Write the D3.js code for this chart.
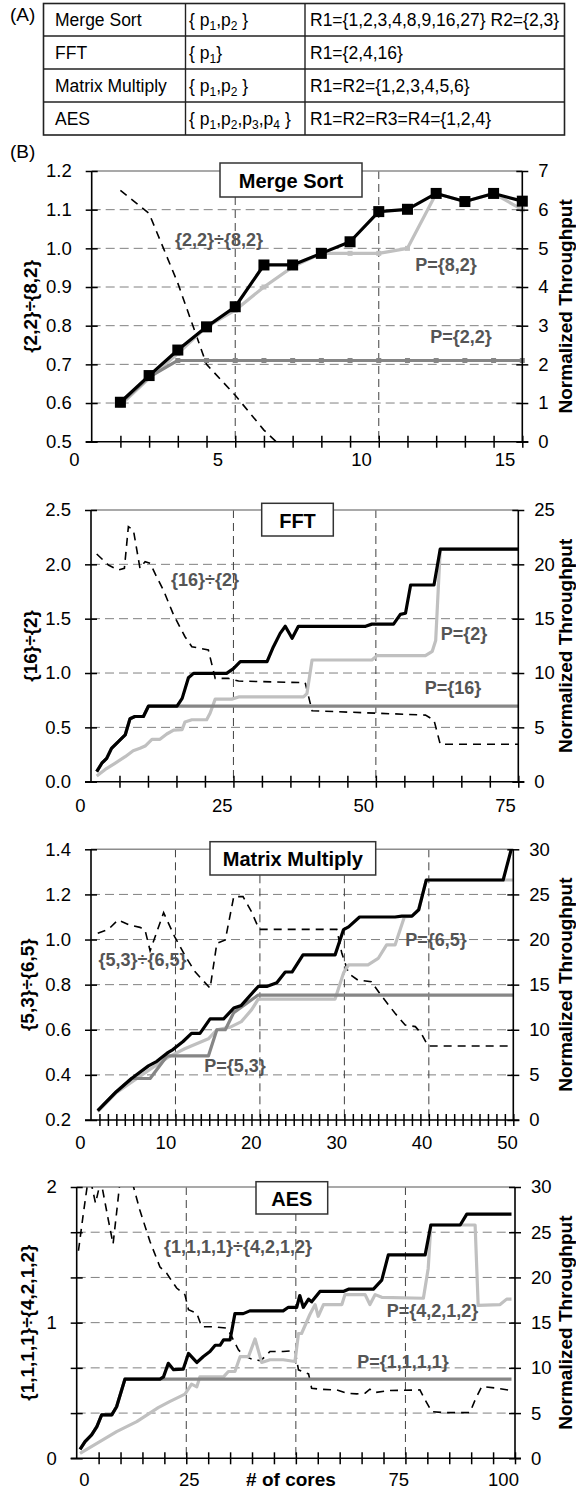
<!DOCTYPE html>
<html>
<head>
<meta charset="utf-8">
<title>Throughput of parallel patterns</title>
<script src="https://cdn.jsdelivr.net/npm/d3@7"></script>
<style>
  body { margin: 0; background: #fff; }
  svg { display: block; font-family: "Liberation Sans", Arial, Helvetica, sans-serif; }
  .hgrid { stroke: #808080; stroke-width: 1; stroke-dasharray: 9 5; }
  .vgrid { stroke: #404040; stroke-width: 1; stroke-dasharray: 8 5; }
  .frame { stroke: #000; stroke-width: 1.6; }
  .topline { stroke: #8c8c8c; stroke-width: 1.6; }
  .ratio { fill: none; stroke: #000; stroke-width: 1.6; stroke-dasharray: 8 6; }
  .best { fill: none; stroke: #000; stroke-width: 3.2; stroke-linejoin: round; }
  .light { fill: none; stroke: #c0c0c0; stroke-width: 3.2; stroke-linejoin: round; }
  .dark { fill: none; stroke: #868686; stroke-width: 3.2; stroke-linejoin: round; }
  .lbl { font-weight: bold; font-size: 18px; fill: #555; text-anchor: middle; dominant-baseline: central; }
  .ttl { font-weight: bold; font-size: 20px; fill: #000; text-anchor: middle; dominant-baseline: central; }
  .axttl { font-weight: bold; font-size: 19px; fill: #000; text-anchor: middle; dominant-baseline: central; }
  .cell { font-size: 17.5px; fill: #000; }
</style>
</head>
<body>
<svg id="chart" width="576" height="1491"></svg>
<script>
// ---- table (A)
const tableApps = ["Merge Sort", "FFT", "Matrix Multiply", "AES"];
const tableParams = [["1", "2"], ["1"], ["1", "2"], ["1", "2", "3", "4"]];
const tableRanges = ["R1={1,2,3,4,8,9,16,27} R2={2,3}", "R1={2,4,16}", "R1=R2={1,2,3,4,5,6}", "R1=R2=R3=R4={1,2,4}"];

// ---- Merge Sort
const msCores = [1, 2, 3, 4, 5, 6, 7, 8, 9, 10, 11, 12, 13, 14, 15];
const msBest = [1.02, 1.71, 2.37, 2.97, 3.49, 4.57, 4.57, 4.87, 5.17, 5.95, 6.01, 6.42, 6.21, 6.42, 6.22];
const msP82 = [0.95, 1.64, 2.28, 2.97, 3.40, 4.00, 4.52, 4.87, 4.87, 4.87, 5.00, 6.42, 6.21, 6.42, 6.00];
const msP22 = [0.99, 1.67, 2.10, 2.10, 2.10, 2.10, 2.10, 2.10, 2.10, 2.10, 2.10, 2.10, 2.10, 2.10, 2.10];
const msRatioCores = [1, 2, 3, 4, 5, 6, 7];
const msRatio = [1.15, 1.09, 0.91, 0.70, 0.62, 0.53, 0.46];
const msXTicks = [0, 5, 10, 15];
const msLeftLabels = [0.5, 0.6, 0.7, 0.8, 0.9, 1.0, 1.1, 1.2];
const msRightTicks = [0, 1, 2, 3, 4, 5, 6, 7];

// ---- FFT  ([cores, value])
const fftBest = [[1, 0.92], [1.9, 1.7], [2.75, 2.15], [3.6, 3.07], [4.8, 3.68], [6, 4.3], [6.85, 5.8], [7.7, 6], [9.2, 6],
  [10.1, 6.96], [15.1, 6.96], [16, 7.67], [17.1, 9.57], [18, 9.97], [23.8, 9.97], [25, 10.4], [26.2, 11.04], [30.9, 11.04],
  [32, 12.4], [33.2, 13.65], [34.1, 14.3], [35.3, 13.2], [36.4, 14.3], [48.2, 14.3], [49.3, 14.5], [53.1, 14.5], [54.3, 15.4],
  [55.2, 15.5], [56.1, 18.1], [60.2, 18.1], [61.3, 21.4], [75, 21.4]];
const fftP2 = [[1, 0.52], [2.5, 1.13], [4.2, 1.69], [6, 2.3], [7.4, 2.85], [8.6, 3.07], [9.5, 3.28], [10.7, 3.9], [12.1, 3.9],
  [13.3, 4.39], [14.5, 4.75], [16, 4.8], [16.5, 5.5], [17.7, 5.7], [20.3, 5.7], [20.9, 6.3], [21.8, 7.6], [24.7, 7.6],
  [25.9, 7.8], [37.3, 7.8], [37.9, 8.1], [38.8, 11.2], [49.3, 11.2], [50.2, 11.6], [58.7, 11.6], [59.9, 12], [60.5, 13],
  [61.3, 21.4], [75, 21.4]];
const fftP16 = [[1, 0.92], [1.9, 1.7], [2.75, 2.15], [3.6, 3.07], [4.8, 3.68], [6, 4.3], [6.85, 5.8], [7.7, 6], [9.2, 6],
  [10.1, 6.96], [75, 6.96]];
const fftRatio = [[1, 2.095], [3.05, 1.994], [4.8, 1.948], [5.86, 1.963], [6.56, 2.347], [7.44, 2.316], [8.6, 1.963],
  [9.5, 2.025], [10.4, 2.009], [11.5, 1.887], [12.7, 1.764], [14.5, 1.534], [16.5, 1.334], [17.7, 1.242], [20.6, 1.212],
  [21.8, 0.951], [24.1, 0.951], [25.9, 0.926], [37.6, 0.911], [38.8, 0.653], [58.7, 0.613], [60.2, 0.567], [61.3, 0.344],
  [75, 0.344]];
const fftXTicks = [0, 25, 50, 75];
const fftLeftLabels = [0, 0.5, 1.0, 1.5, 2.0, 2.5];
const fftRightTicks = [0, 5, 10, 15, 20, 25];

// ---- Matrix Multiply
const mmBest = [[0.8, 1.03], [3, 3.14], [4.8, 4.6], [6.8, 6], [7.8, 6.5], [9, 7.4], [9.7, 7.8], [10.9, 8.7], [11.9, 9.6],
  [12.9, 9.6], [14.1, 11.2], [15.7, 11.2], [16.9, 12.4], [17.8, 12.7], [19.8, 14.8], [20.8, 14.8], [22, 15.2], [23, 16.4],
  [23.8, 16.4], [25.1, 18.3], [28.9, 18.3], [29.9, 21.1], [30.5, 21.4], [31.8, 22.5], [36, 22.5], [36.8, 22.6], [38, 22.6],
  [38.8, 23.3], [39.7, 26.6], [48.8, 26.6], [49.9, 30.5]];
const mmP65 = [[0.8, 0.92], [3, 3.03], [6.8, 5.5], [9.2, 7], [11.1, 7.9], [13.9, 9], [14.9, 10], [16.5, 10.3], [17.8, 10.9],
  [19, 12.2], [19.8, 13.4], [28.9, 13.4], [29.9, 16.3], [30.5, 17.2], [32.8, 17.2], [34, 17.9], [35, 19.4], [36, 19.4],
  [37.1, 22.5], [38, 22.6], [38.8, 23.3], [39.7, 26.6], [50, 26.6]];
const mmP53 = [[0.8, 1.03], [3, 3.14], [4.8, 4.6], [7, 4.6], [9, 7.1], [13.9, 7.1], [14.9, 10], [15.9, 10], [16.9, 11.9],
  [19.8, 13.85], [50, 13.85]];
const mmRatio = [[0.8, 1.028], [2.05, 1.045], [3.2, 1.087], [4.6, 1.064], [5.8, 1.054], [6.4, 1.042], [7, 0.95], [8.6, 1.119],
  [9.9, 1.013], [11.1, 0.931], [12.3, 0.858], [14.1, 0.784], [14.9, 0.983], [15.9, 0.998], [16.9, 1.19], [18, 1.19],
  [19, 1.124], [19.9, 1.045], [29.1, 1.045], [29.7, 0.939], [30.5, 0.85], [31.6, 0.82], [33.2, 0.813], [34.2, 0.76],
  [36, 0.673], [37.2, 0.621], [38.4, 0.614], [39.1, 0.584], [39.9, 0.528], [50, 0.528]];
const mmXTicks = [0, 10, 20, 30, 40, 50];
const mmLeftLabels = [0.2, 0.4, 0.6, 0.8, 1.0, 1.2, 1.4];
const mmRightTicks = [0, 5, 10, 15, 20, 25, 30];

// ---- AES
const aesBest = [[0.76, 1], [1.9, 1.85], [3.4, 2.58], [4.6, 3.5], [5.7, 4.8], [8, 4.8], [9.1, 5.7], [11, 8.75], [19, 8.75],
  [19.8, 9], [20.9, 10.5], [22.1, 9.8], [24.3, 9.85], [25.5, 11.6], [27.4, 10.6], [28.9, 11.25], [30.4, 11.8], [31.6, 12.5],
  [32.7, 12.5], [33.5, 13.1], [35, 13.1], [36.1, 16], [38, 16], [39.5, 16.3], [47.1, 16.3], [48.3, 16.7], [50.2, 16.7],
  [50.9, 18], [51.7, 16.7], [52.9, 17.6], [53.6, 17.3], [55.5, 18.45], [60.8, 18.45], [62, 18.7], [67.7, 18.7], [69.6, 19.7],
  [71.1, 22.5], [79.5, 22.5], [80.8, 25.8], [87.5, 25.8], [89, 27], [99.2, 27]];
const aesP4212 = [[0.76, 0.55], [4.6, 1.66], [9.1, 2.95], [13.7, 4.06], [18.6, 5.6], [21.3, 6.3], [24.7, 7.1], [26.2, 8.2],
  [27.4, 7.9], [28.1, 9], [33.5, 9], [34.6, 9.6], [36.1, 9.6], [37.3, 11.25], [39.2, 11.25], [40.7, 13.2], [42.2, 10.6],
  [44.1, 10.9], [47.1, 10.9], [49.8, 10.7], [50.6, 13.8], [51.3, 13.8], [53.2, 15.9], [54.4, 17], [55.1, 15.7], [56.3, 17],
  [60.5, 17], [61.2, 18.1], [65.8, 18.1], [66.9, 17], [68.1, 18.1], [69.6, 17.8], [79.1, 17.7], [80.2, 21], [80.8, 25.8],
  [90.9, 25.8], [91.6, 16.9], [96.6, 17], [98.1, 17.6], [99.2, 17.6]];
const aesP1111 = [[0.76, 1], [1.9, 1.85], [3.4, 2.58], [4.6, 3.5], [5.7, 4.8], [8, 4.8], [9.1, 5.7], [11, 8.75], [99.2, 8.75]];
const aesRatio = [[0.4, 1.53], [1.5, 1.8], [2.5, 2.03], [3.3, 2.03], [4.3, 1.88], [5.5, 2.05], [7.2, 1.76], [8.3, 1.58],
  [9.1, 1.81], [10, 2.08], [12.3, 2.08], [14.4, 1.83], [16.7, 1.6], [19, 1.41], [20.5, 1.365], [22.8, 1.255], [24.7, 1.205],
  [25.5, 1.095], [27.4, 1.07], [28.5, 0.97], [31.2, 0.97], [34.2, 0.96], [35, 0.92], [36.9, 0.8], [38, 0.76], [40.3, 0.725],
  [42, 0.72], [44.1, 0.787], [47.1, 0.787], [49.8, 0.795], [50.6, 0.652], [52.9, 0.622], [53.6, 0.517], [55.5, 0.509],
  [59.3, 0.504], [61.6, 0.48], [63.9, 0.475], [65.8, 0.48], [66.9, 0.509], [68.1, 0.485], [71.5, 0.5], [78.3, 0.504],
  [79.5, 0.43], [81, 0.344], [83.7, 0.337], [89.7, 0.337], [90.9, 0.43], [92.4, 0.529], [95.8, 0.517], [99.2, 0.5]];
const aesXTicks = [0, 25, 75, 100];
const aesLeftLabels = [0, 1, 2];
const aesRightTicks = [0, 5, 10, 15, 20, 25, 30];

// merge sort is kept as separate value arrays; zip them for d3.line
const zip = (xs, ys) => xs.map((v, i) => [v, ys[i]]);

const svg = d3.select("#chart");
svg.append("rect").attr("width", 576).attr("height", 1491).attr("fill", "#fff");

// ---------- table
const tab = svg.append("g");
const colX = [43.5, 185.5, 305, 564.5];
const rowY = [3.5, 36, 69, 102, 135];
tab.append("text").attr("x", 10).attr("y", 21).attr("font-size", 19).text("(A)");
tab.append("rect").attr("x", colX[0]).attr("y", rowY[0])
  .attr("width", colX[3] - colX[0]).attr("height", rowY[4] - rowY[0])
  .attr("fill", "none").attr("stroke", "#222").attr("stroke-width", 1.6);
tab.selectAll(".rowline").data(rowY.slice(1, 4)).join("line")
  .attr("x1", colX[0]).attr("x2", colX[3]).attr("y1", d => d).attr("y2", d => d)
  .attr("stroke", "#222").attr("stroke-width", 1.4);
tab.selectAll(".colline").data(colX.slice(1, 3)).join("line")
  .attr("x1", d => d).attr("x2", d => d).attr("y1", rowY[0]).attr("y2", rowY[4])
  .attr("stroke", "#222").attr("stroke-width", 1.4);
tableApps.forEach((app, i) => {
  const base = (rowY[i] + rowY[i + 1]) / 2 + 6.5;
  tab.append("text").attr("class", "cell").attr("x", 55).attr("y", base).text(app);
  const t = tab.append("text").attr("class", "cell").attr("x", 189).attr("y", base);
  t.append("tspan").text("{ ");
  tableParams[i].forEach((s, j) => {
    t.append("tspan").text("p");
    t.append("tspan").attr("font-size", 12).attr("dy", 4).text(s);
    t.append("tspan").attr("dy", -4).text(j < tableParams[i].length - 1 ? "," : (tableParams[i].length > 1 ? " }" : "}"));
  });
  tab.append("text").attr("class", "cell").attr("x", 310).attr("y", base).text(tableRanges[i]);
});
svg.append("text").attr("x", 10).attr("y", 158).attr("font-size", 19).text("(B)");

// ---------- panels
const panels = [
  {
    id: "ms", top: 171, bottom: 441.7, left: 91.7, right: 522.3, xDomain: [0, 15], xLabelRange: [74, 504.5],
    xTicks: msXTicks, xMinor: d3.range(1, 16), xLabelDy: 18, vGrid: [5, 10],
    leftDomain: [0.5, 1.2], leftLabels: msLeftLabels, leftFormat: d3.format(".1f"),
    rightDomain: [0, 7], rightTicks: msRightTicks,
    best: zip(msCores, msBest), light: zip(msCores, msP82), dark: zip(msCores, msP22), ratio: zip(msRatioCores, msRatio),
    markers: true, leftTitle: "{2,2}÷{8,2}", leftTitleX: 30,
    box: { text: "Merge Sort", x0: 220, y0: 163, x1: 362, y1: 197 },
    labels: [{ text: "{2,2}÷{8,2}", x: 219, y: 240 }, { text: "P={8,2}", x: 446, y: 265 }, { text: "P={2,2}", x: 461, y: 337 }]
  },
  {
    id: "fft", top: 510, bottom: 781.7, left: 91, right: 518.3, xDomain: [0, 75], xLabelRange: [80, 505],
    xTicks: fftXTicks, xMinor: d3.range(5, 76, 5), xLabelDy: 24, vGrid: [25, 50],
    leftDomain: [0, 2.5], leftLabels: fftLeftLabels, leftFormat: d3.format(".1f"),
    rightDomain: [0, 25], rightTicks: fftRightTicks,
    best: fftBest, light: fftP2, dark: fftP16, ratio: fftRatio,
    markers: false, leftTitle: "{16}÷{2}", leftTitleX: 30,
    box: { text: "FFT", x0: 261.7, y0: 503.3, x1: 333.3, y1: 536 },
    labels: [{ text: "{16}÷{2}", x: 205, y: 580 }, { text: "P={2}", x: 464, y: 634 }, { text: "P={16}", x: 453, y: 688 }]
  },
  {
    id: "mm", top: 849.3, bottom: 1120, left: 91, right: 513.3, xDomain: [0, 50], xLabelRange: [80, 507],
    xTicks: mmXTicks, xMinor: d3.range(1, 51), xLabelDy: 23, vGrid: [10, 20, 30, 40],
    leftDomain: [0.2, 1.4], leftLabels: mmLeftLabels, leftFormat: d3.format(".1f"),
    rightDomain: [0, 30], rightTicks: mmRightTicks,
    best: mmBest, light: mmP65, dark: mmP53, ratio: mmRatio,
    markers: false, leftTitle: "{5,3}÷{6,5}", leftTitleX: 27,
    box: { text: "Matrix Multiply", x0: 210, y0: 841.7, x1: 375.7, y1: 875 },
    labels: [{ text: "{5,3}÷{6,5}", x: 142.5, y: 960 }, { text: "P={6,5}", x: 436, y: 940 }, { text: "P={5,3}", x: 235, y: 1066 }]
  },
  {
    id: "aes", top: 1187, bottom: 1458.3, left: 76.7, right: 515, xDomain: [0, 100], xLabelRange: [84, 503],
    xTicks: aesXTicks, xMinor: d3.range(5, 101, 5), xLabelDy: 21, vGrid: [25, 50, 75],
    leftDomain: [0, 2], leftLabels: aesLeftLabels, leftFormat: d3.format("d"),
    rightDomain: [0, 30], rightTicks: aesRightTicks,
    best: aesBest, light: aesP4212, dark: aesP1111, ratio: aesRatio,
    markers: false, leftTitle: "{1,1,1,1}÷{4,2,1,2}", leftTitleX: 27,
    box: { text: "AES", x0: 256, y0: 1181.7, x1: 327.7, y1: 1214 },
    labels: [{ text: "{1,1,1,1}÷{4,2,1,2}", x: 238, y: 1246.7 }, { text: "P={4,2,1,2}", x: 432.5, y: 1310.7 },
      { text: "P={1,1,1,1}", x: 403, y: 1361.7 }],
    xTitle: "# of cores", xTitleX: 291
  }
];

function styleAxis(a, size) {
  a.attr("font-size", size).attr("font-family", null);
  a.select(".domain").remove();
  a.selectAll(".tick line").attr("stroke-width", 1.5);
}

panels.forEach(p => {
  const g = svg.append("g").attr("id", p.id);
  const x = d3.scaleLinear().domain(p.xDomain).range([p.left, p.right]);
  const xl = d3.scaleLinear().domain(p.xDomain).range(p.xLabelRange);
  const yR = d3.scaleLinear().domain(p.rightDomain).range([p.bottom, p.top]);
  const yL = d3.scaleLinear().domain(p.leftDomain).range([p.bottom, p.top]);
  const leftTicks = p.rightTicks.map(t => yL.invert(yR(t)));

  // grid
  g.append("g").selectAll("line").data(p.rightTicks.slice(1, -1)).join("line")
    .attr("class", "hgrid").attr("x1", p.left).attr("x2", p.right)
    .attr("y1", d => yR(d)).attr("y2", d => yR(d));
  g.append("g").selectAll("line").data(p.vGrid).join("line")
    .attr("class", "vgrid").attr("y1", p.top).attr("y2", p.bottom)
    .attr("x1", d => x(d)).attr("x2", d => x(d));
  g.append("line").attr("class", "topline").attr("x1", p.left).attr("x2", p.right)
    .attr("y1", p.top).attr("y2", p.top);

  // series
  g.append("clipPath").attr("id", "clip-" + p.id).append("rect")
    .attr("x", p.left).attr("y", p.top).attr("width", p.right - p.left).attr("height", p.bottom - p.top);
  const plot = g.append("g").attr("clip-path", `url(#clip-${p.id})`);
  const lineR = d3.line().x(d => x(d[0])).y(d => yR(d[1]));
  const lineL = d3.line().x(d => x(d[0])).y(d => yL(d[1]));
  plot.append("path").attr("class", "ratio").attr("d", lineL(p.ratio));
  plot.append("path").attr("class", "light").attr("d", lineR(p.light));
  plot.append("path").attr("class", "dark").attr("d", lineR(p.dark));
  plot.append("path").attr("class", "best").attr("d", lineR(p.best));
  if (p.markers) {
    [[p.light, "#c0c0c0", 5], [p.dark, "#868686", 5], [p.best, "#000", 11]].forEach(([data, col, s]) => {
      g.append("g").selectAll("rect").data(data).join("rect")
        .attr("x", d => x(d[0]) - s / 2).attr("y", d => yR(d[1]) - s / 2)
        .attr("width", s).attr("height", s).attr("fill", col);
    });
  }

  // frame lines
  g.append("line").attr("class", "frame").attr("x1", p.left).attr("x2", p.left).attr("y1", p.top).attr("y2", p.bottom);
  g.append("line").attr("class", "frame").attr("x1", p.right).attr("x2", p.right).attr("y1", p.top).attr("y2", p.bottom);
  g.append("line").attr("class", "frame").attr("x1", p.left - 6).attr("x2", p.right + 6).attr("y1", p.bottom).attr("y2", p.bottom);

  // tick marks (crossing the axis lines)
  g.append("g").attr("transform", `translate(0,${p.bottom - 6})`)
    .call(d3.axisBottom(x).tickValues(p.xMinor).tickSize(12).tickFormat(""))
    .call(a => styleAxis(a, 18.5));
  g.append("g").attr("transform", `translate(${p.left + 6},0)`)
    .call(d3.axisLeft(yL).tickValues(leftTicks).tickSize(12).tickFormat(""))
    .call(a => styleAxis(a, 18.5));
  g.append("g").attr("transform", `translate(${p.right - 6},0)`)
    .call(d3.axisRight(yR).tickValues(p.rightTicks).tickSize(12).tickFormat(""))
    .call(a => styleAxis(a, 18.5));

  // tick labels
  g.append("g").attr("transform", `translate(0,${p.bottom + p.xLabelDy - 6.7})`)
    .call(d3.axisBottom(xl).tickValues(p.xTicks).tickSize(0).tickPadding(0).tickFormat(d3.format("d")))
    .call(a => styleAxis(a, 18.5));
  g.append("g").attr("transform", `translate(${p.left - 20},0)`)
    .call(d3.axisLeft(yL).tickValues(p.leftLabels).tickSize(0).tickPadding(0).tickFormat(p.leftFormat))
    .call(a => styleAxis(a, 18.5));
  g.append("g").attr("transform", `translate(${p.right + 16},0)`)
    .call(d3.axisRight(yR).tickValues(p.rightTicks).tickSize(0).tickPadding(0).tickFormat(d3.format("d")))
    .call(a => styleAxis(a, 18.5));

  // axis titles
  const midY = (p.top + p.bottom) / 2;
  g.append("text").attr("class", "axttl")
    .attr("transform", `translate(${p.leftTitleX},${midY}) rotate(-90)`).text(p.leftTitle);
  g.append("text").attr("class", "axttl")
    .attr("transform", `translate(565,${midY}) rotate(-90)`).text("Normalized Throughput");
  if (p.xTitle) {
    g.append("text").attr("class", "axttl").attr("x", p.xTitleX)
      .attr("y", p.bottom + p.xLabelDy).text(p.xTitle);
  }

  // title box and series labels
  g.append("rect").attr("x", p.box.x0).attr("y", p.box.y0)
    .attr("width", p.box.x1 - p.box.x0).attr("height", p.box.y1 - p.box.y0)
    .attr("fill", "#fff").attr("stroke", "#333").attr("stroke-width", 1.5);
  g.append("text").attr("class", "ttl").attr("x", (p.box.x0 + p.box.x1) / 2)
    .attr("y", (p.box.y0 + p.box.y1) / 2 + 1).text(p.box.text);
  g.selectAll(".lbl").data(p.labels).join("text").attr("class", "lbl")
    .attr("x", d => d.x).attr("y", d => d.y).text(d => d.text);
});
</script>
</body>
</html>
